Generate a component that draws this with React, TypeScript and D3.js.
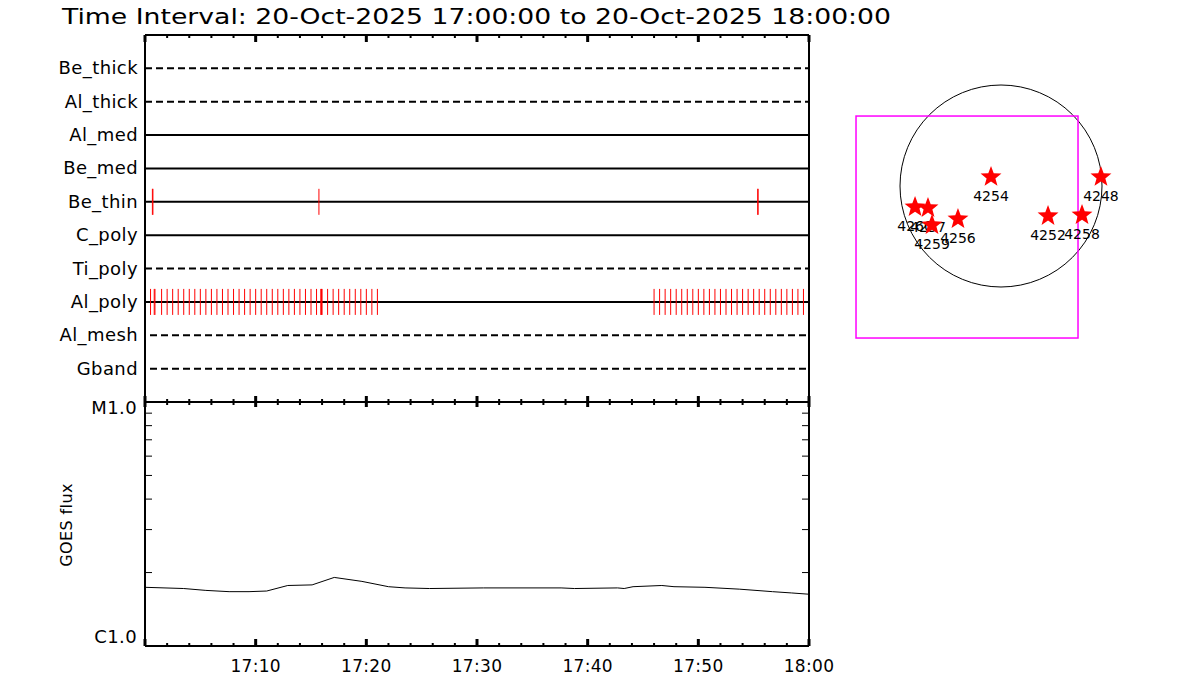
import React from "react";
import * as d3 from "d3";

const title = "Time Interval: 20-Oct-2025 17:00:00 to 20-Oct-2025 18:00:00";
const rows = ["Be_thick", "Al_thick", "Al_med", "Be_med", "Be_thin", "C_poly", "Ti_poly", "Al_poly", "Al_mesh", "Gband"];
const dashedRows = ["Be_thick", "Al_thick", "Ti_poly", "Al_mesh", "Gband"];
const offsetDashRows = ["Al_mesh", "Gband"];

// event times in seconds after 17:00:00
const beThinTimes = [40, 43, 943, 3322, 3324];
const alPolyTimes = [
  30, 50, 54,
  90, 120, 150, 180, 210, 240, 270, 300, 330, 360, 390, 420, 450, 480, 510, 540, 570, 600,
  630, 660, 690, 720, 750, 780, 810, 840, 870, 900, 930, 953, 957, 960, 990, 1020, 1050,
  1080, 1110, 1140, 1170, 1200, 1230, 1260,
  2760, 2790, 2820, 2850, 2880, 2910, 2940, 2970, 3000, 3030, 3060, 3090, 3120, 3150,
  3180, 3210, 3240, 3270, 3300, 3330, 3360, 3390, 3420, 3450, 3480, 3510, 3540, 3570,
];

// GOES flux (minutes after 17:00, W/m^2)
const goesMinutes = [0, 3.5, 5.5, 7.6, 9.4, 11.0, 12.9, 15.1, 17.1, 19.6, 22.0, 23.5, 25.7, 30.6, 37.6, 38.8, 42.7, 43.3, 44.1, 46.7, 47.8, 50.6, 53.7, 56.7, 58.4, 60];
const goesFlux = [1.74e-6, 1.72e-6, 1.69e-6, 1.67e-6, 1.67e-6, 1.68e-6, 1.77e-6, 1.78e-6, 1.91e-6, 1.84e-6, 1.75e-6, 1.73e-6, 1.72e-6, 1.73e-6, 1.73e-6, 1.72e-6, 1.73e-6, 1.72e-6, 1.75e-6, 1.77e-6, 1.75e-6, 1.74e-6, 1.71e-6, 1.67e-6, 1.65e-6, 1.63e-6];
const yTickLabels = ["C1.0", "M1.0"];
const xTickLabels = ["17:10", "17:20", "17:30", "17:40", "17:50", "18:00"];

// Active regions (arcsec)
const arNumbers = ["4254", "4248", "4252", "4258", "4256", "4260", "4257", "4259"];
const arX = [-95, 950, 447, 770, -409, -817, -694, -656];
const arY = [86, 86, -285, -276, -314, -200, -209, -371];
const solarRadius = 960;
const fovCenter = [-323, -390];
const fovSize = 2110;

const t0 = new Date(2025, 9, 20, 17, 0, 0);
const t1 = new Date(2025, 9, 20, 18, 0, 0);
const sec = (s: number) => new Date(t0.getTime() + s * 1000);

const FONT = "'DejaVu Sans', 'Liberation Sans', sans-serif";

function starPath(cx: number, cy: number, R: number) {
  const r = R * 0.42;
  const pts: [number, number][] = [];
  for (let i = 0; i < 10; i++) {
    const a = -Math.PI / 2 + (i * Math.PI) / 5;
    const rr = i % 2 === 0 ? R : r;
    pts.push([cx + rr * Math.cos(a), cy + rr * Math.sin(a)]);
  }
  return d3.line()(pts)! + "Z";
}

export default function App() {
  const L = 145, Rt = 809, top = 35, mid = 402, bot = 646;
  const x = d3.scaleTime().domain([t0, t1]).range([L, Rt]);
  const yRow = d3.scalePoint<string>().domain(rows).range([top, mid]).padding(1);
  const yFlux = d3.scaleLog().domain([1e-6, 1e-5]).range([bot, mid]);

  const minorTicks = d3.timeMinute.every(2)!.range(t0, new Date(t1.getTime() + 1000));
  const majorTicks = d3.timeMinute.every(10)!.range(t0, new Date(t1.getTime() + 1000));
  const isMajor = (d: Date) => d.getMinutes() % 10 === 0;

  const logTicks = yFlux.ticks().filter((v) => v > 1e-6 * 1.01 && v < 1e-5 * 0.99);

  const line = d3
    .line<number>()
    .x((_, i) => x(sec(goesMinutes[i] * 60)))
    .y((v) => yFlux(v));

  const k = 101 / solarRadius;
  const cx0 = 1001, cy0 = 186;
  const sx = d3.scaleLinear().domain([-solarRadius, solarRadius]).range([cx0 - 101, cx0 + 101]);
  const sy = d3.scaleLinear().domain([-solarRadius, solarRadius]).range([cy0 + 101, cy0 - 101]);

  const tickLen = 13;

  return (
    <svg width={1200} height={700} style={{ display: "block", position: "absolute", left: 0, top: 0, background: "#fff" }}>
      <rect x={0} y={0} width={1200} height={700} fill="#fff" />
      <text x={62} y={24} fontFamily={FONT} fontSize={22} fill="#000" textLength={829} lengthAdjust="spacingAndGlyphs">
        {title}
      </text>

      {rows.map((r) => (
        <g key={r}>
          <line
            x1={L}
            x2={Rt}
            y1={yRow(r)}
            y2={yRow(r)}
            stroke="#000"
            strokeWidth={2}
            strokeDasharray={dashedRows.includes(r) ? "7 4" : undefined}
            strokeDashoffset={offsetDashRows.includes(r) ? -5 : 0}
          />
          <text x={138} y={yRow(r)! + 6} textAnchor="end" fontFamily={FONT} fontSize={18} letterSpacing={0.4} fill="#000">
            {r}
          </text>
        </g>
      ))}

      {beThinTimes.map((s, i) => (
        <line key={"bt" + i} x1={x(sec(s))} x2={x(sec(s))} y1={yRow("Be_thin")! - tickLen} y2={yRow("Be_thin")! + tickLen} stroke="#f00" strokeWidth={1} />
      ))}
      {alPolyTimes.map((s, i) => (
        <line key={"ap" + i} x1={x(sec(s))} x2={x(sec(s))} y1={yRow("Al_poly")! - tickLen} y2={yRow("Al_poly")! + tickLen} stroke="#f00" strokeWidth={1} />
      ))}

      <line x1={L} x2={Rt} y1={top} y2={top} stroke="#000" strokeWidth={2} />
      <line x1={L} x2={L} y1={top} y2={bot} stroke="#000" strokeWidth={2} />
      <line x1={Rt} x2={Rt} y1={top} y2={bot} stroke="#000" strokeWidth={2} />
      <line x1={L} x2={Rt} y1={mid} y2={mid} stroke="#000" strokeWidth={2} />
      <line x1={L} x2={Rt} y1={bot} y2={bot} stroke="#000" strokeWidth={2} />

      {minorTicks.map((d, i) => {
        const xx = x(d);
        const m = isMajor(d);
        return (
          <g key={"tk" + i}>
            <line x1={xx} x2={xx} y1={top} y2={top + (m ? 7 : 3)} stroke="#000" strokeWidth={m ? 3 : 2} />
            <line x1={xx} x2={xx} y1={mid - (m ? 6 : 3)} y2={mid + (m ? 5 : 3)} stroke="#000" strokeWidth={m ? 3 : 2} />
            <line x1={xx} x2={xx} y1={bot} y2={bot - (m ? 7 : 3)} stroke="#000" strokeWidth={m ? 3 : 2} />
          </g>
        );
      })}
      {majorTicks.slice(1).map((d, i) => (
        <text key={"xl" + i} x={x(d)} y={672} textAnchor="middle" fontFamily={FONT} fontSize={17} letterSpacing={0.3} fill="#000">
          {xTickLabels[i]}
        </text>
      ))}

      {logTicks.map((v, i) => (
        <g key={"lt" + i}>
          <line x1={L} x2={L + 7} y1={yFlux(v)} y2={yFlux(v)} stroke="#000" strokeWidth={1} />
          <line x1={Rt - 7} x2={Rt} y1={yFlux(v)} y2={yFlux(v)} stroke="#000" strokeWidth={1} />
        </g>
      ))}
      <text x={137} y={414} textAnchor="end" fontFamily={FONT} fontSize={18} letterSpacing={0.4} fill="#000">{yTickLabels[1]}</text>
      <text x={137} y={643} textAnchor="end" fontFamily={FONT} fontSize={18} letterSpacing={0.4} fill="#000">{yTickLabels[0]}</text>
      <text transform={`translate(72,525) rotate(-90)`} textAnchor="middle" fontFamily={FONT} fontSize={16} letterSpacing={0.4} fill="#000">
        GOES flux
      </text>

      <path d={line(goesFlux)!} fill="none" stroke="#000" strokeWidth={1} />

      <circle cx={sx(0)} cy={sy(0)} r={solarRadius * k} fill="none" stroke="#000" strokeWidth={1} />
      <rect
        x={sx(fovCenter[0] - fovSize / 2)}
        y={sy(fovCenter[1] + fovSize / 2)}
        width={sx(fovCenter[0] + fovSize / 2) - sx(fovCenter[0] - fovSize / 2)}
        height={sy(fovCenter[1] - fovSize / 2) - sy(fovCenter[1] + fovSize / 2)}
        fill="none"
        stroke="#f0f"
        strokeWidth={1.5}
      />
      {arNumbers.map((n, i) => (
        <g key={n}>
          <path d={starPath(sx(arX[i]), sy(arY[i]), 11)} fill="#f00" />
          <text x={sx(arX[i])} y={sy(arY[i]) + 24} textAnchor="middle" fontFamily={FONT} fontSize={14} fill="#000">
            {n}
          </text>
        </g>
      ))}
    </svg>
  );
}
